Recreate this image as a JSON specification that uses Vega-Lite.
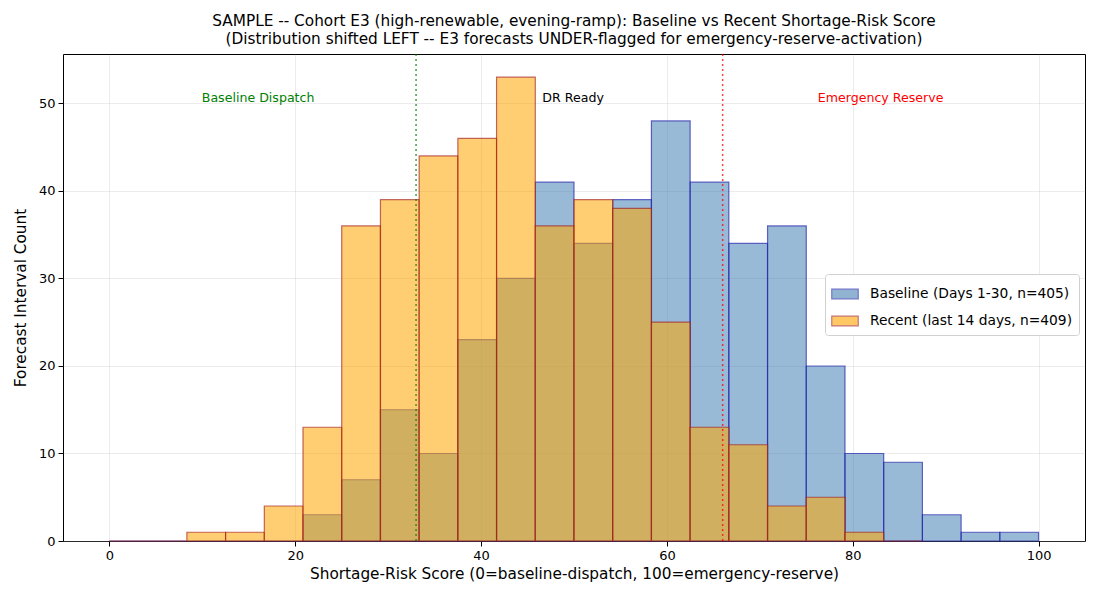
{
  "$schema": "https://vega.github.io/schema/vega-lite/v6.json",
  "autosize": "none",
  "width": 1022,
  "height": 487,
  "padding": {"left": 63, "top": 54, "right": 15, "bottom": 59},
  "background": "white",
  "config": {
    "font": "DejaVu Sans",
    "view": {"stroke": "black", "strokeWidth": 1},
    "axis": {
      "domain": false,
      "grid": true,
      "gridColor": "#b0b0b0",
      "gridOpacity": 0.3,
      "gridWidth": 0.8,
      "tickColor": "black",
      "tickSize": 5,
      "labelColor": "black",
      "labelFontSize": 13,
      "titleColor": "black",
      "titleFontSize": 15.3,
      "titleFontWeight": "normal"
    }
  },
  "title": {
    "text": ["SAMPLE -- Cohort E3 (high-renewable, evening-ramp): Baseline vs Recent Shortage-Risk Score", "(Distribution shifted LEFT -- E3 forecasts UNDER-flagged for emergency-reserve-activation)"],
    "fontSize": 15.3,
    "fontWeight": "normal",
    "color": "black",
    "anchor": "middle",
    "offset": 6,
    "lineHeight": 18
  },
  "datasets": {
    "bins": [
      {"series": "Baseline (Days 1-30, n=405)", "lo": 0, "hi": 4.1667, "count": 0},
      {"series": "Baseline (Days 1-30, n=405)", "lo": 4.1667, "hi": 8.3333, "count": 0},
      {"series": "Baseline (Days 1-30, n=405)", "lo": 8.3333, "hi": 12.5, "count": 0},
      {"series": "Baseline (Days 1-30, n=405)", "lo": 12.5, "hi": 16.6667, "count": 0},
      {"series": "Baseline (Days 1-30, n=405)", "lo": 16.6667, "hi": 20.8333, "count": 0},
      {"series": "Baseline (Days 1-30, n=405)", "lo": 20.8333, "hi": 25, "count": 3},
      {"series": "Baseline (Days 1-30, n=405)", "lo": 25, "hi": 29.1667, "count": 7},
      {"series": "Baseline (Days 1-30, n=405)", "lo": 29.1667, "hi": 33.3333, "count": 15},
      {"series": "Baseline (Days 1-30, n=405)", "lo": 33.3333, "hi": 37.5, "count": 10},
      {"series": "Baseline (Days 1-30, n=405)", "lo": 37.5, "hi": 41.6667, "count": 23},
      {"series": "Baseline (Days 1-30, n=405)", "lo": 41.6667, "hi": 45.8333, "count": 30},
      {"series": "Baseline (Days 1-30, n=405)", "lo": 45.8333, "hi": 50, "count": 41},
      {"series": "Baseline (Days 1-30, n=405)", "lo": 50, "hi": 54.1667, "count": 34},
      {"series": "Baseline (Days 1-30, n=405)", "lo": 54.1667, "hi": 58.3333, "count": 39},
      {"series": "Baseline (Days 1-30, n=405)", "lo": 58.3333, "hi": 62.5, "count": 48},
      {"series": "Baseline (Days 1-30, n=405)", "lo": 62.5, "hi": 66.6667, "count": 41},
      {"series": "Baseline (Days 1-30, n=405)", "lo": 66.6667, "hi": 70.8333, "count": 34},
      {"series": "Baseline (Days 1-30, n=405)", "lo": 70.8333, "hi": 75, "count": 36},
      {"series": "Baseline (Days 1-30, n=405)", "lo": 75, "hi": 79.1667, "count": 20},
      {"series": "Baseline (Days 1-30, n=405)", "lo": 79.1667, "hi": 83.3333, "count": 10},
      {"series": "Baseline (Days 1-30, n=405)", "lo": 83.3333, "hi": 87.5, "count": 9},
      {"series": "Baseline (Days 1-30, n=405)", "lo": 87.5, "hi": 91.6667, "count": 3},
      {"series": "Baseline (Days 1-30, n=405)", "lo": 91.6667, "hi": 95.8333, "count": 1},
      {"series": "Baseline (Days 1-30, n=405)", "lo": 95.8333, "hi": 100, "count": 1},
      {"series": "Recent (last 14 days, n=409)", "lo": 0, "hi": 4.1667, "count": 0},
      {"series": "Recent (last 14 days, n=409)", "lo": 4.1667, "hi": 8.3333, "count": 0},
      {"series": "Recent (last 14 days, n=409)", "lo": 8.3333, "hi": 12.5, "count": 1},
      {"series": "Recent (last 14 days, n=409)", "lo": 12.5, "hi": 16.6667, "count": 1},
      {"series": "Recent (last 14 days, n=409)", "lo": 16.6667, "hi": 20.8333, "count": 4},
      {"series": "Recent (last 14 days, n=409)", "lo": 20.8333, "hi": 25, "count": 13},
      {"series": "Recent (last 14 days, n=409)", "lo": 25, "hi": 29.1667, "count": 36},
      {"series": "Recent (last 14 days, n=409)", "lo": 29.1667, "hi": 33.3333, "count": 39},
      {"series": "Recent (last 14 days, n=409)", "lo": 33.3333, "hi": 37.5, "count": 44},
      {"series": "Recent (last 14 days, n=409)", "lo": 37.5, "hi": 41.6667, "count": 46},
      {"series": "Recent (last 14 days, n=409)", "lo": 41.6667, "hi": 45.8333, "count": 53},
      {"series": "Recent (last 14 days, n=409)", "lo": 45.8333, "hi": 50, "count": 36},
      {"series": "Recent (last 14 days, n=409)", "lo": 50, "hi": 54.1667, "count": 39},
      {"series": "Recent (last 14 days, n=409)", "lo": 54.1667, "hi": 58.3333, "count": 38},
      {"series": "Recent (last 14 days, n=409)", "lo": 58.3333, "hi": 62.5, "count": 25},
      {"series": "Recent (last 14 days, n=409)", "lo": 62.5, "hi": 66.6667, "count": 13},
      {"series": "Recent (last 14 days, n=409)", "lo": 66.6667, "hi": 70.8333, "count": 11},
      {"series": "Recent (last 14 days, n=409)", "lo": 70.8333, "hi": 75, "count": 4},
      {"series": "Recent (last 14 days, n=409)", "lo": 75, "hi": 79.1667, "count": 5},
      {"series": "Recent (last 14 days, n=409)", "lo": 79.1667, "hi": 83.3333, "count": 1},
      {"series": "Recent (last 14 days, n=409)", "lo": 83.3333, "hi": 87.5, "count": 0}
    ],
    "zones": [
      {"x": 33, "color": "green"},
      {"x": 66, "color": "red"}
    ],
    "labels": [
      {"x": 16, "label": "Baseline Dispatch", "color": "green"},
      {"x": 49.9, "label": "DR Ready", "color": "black"},
      {"x": 83, "label": "Emergency Reserve", "color": "red"}
    ]
  },
  "layer": [
    {
      "data": {"name": "bins"},
      "mark": {"type": "bar", "orient": "vertical", "fillOpacity": 0.55, "strokeOpacity": 0.65, "strokeWidth": 1.2},
      "encoding": {
        "x": {
          "field": "lo", "type": "quantitative",
          "scale": {"domain": [-5, 105], "nice": false, "zero": false, "padding": 0},
          "axis": {"values": [0, 20, 40, 60, 80, 100], "title": "Shortage-Risk Score (0=baseline-dispatch, 100=emergency-reserve)", "titlePadding": 4, "labelPadding": 3}
        },
        "x2": {"field": "hi"},
        "y": {
          "field": "count", "type": "quantitative", "stack": null,
          "scale": {"domain": [0, 55.65], "nice": false},
          "axis": {"values": [0, 10, 20, 30, 40, 50], "title": "Forecast Interval Count", "titlePadding": 10, "labelPadding": 3}
        },
        "y2": {"datum": 0},
        "color": {
          "field": "series", "type": "nominal",
          "scale": {"domain": ["Baseline (Days 1-30, n=405)", "Recent (last 14 days, n=409)"], "range": ["#4682b4", "#ffa500"]},
          "legend": {
            "title": null,
            "orient": "none",
            "legendX": 762,
            "legendY": 220,
            "labelFontSize": 13.8,
            "labelLimit": 400,
            "labelColor": "black",
            "symbolType": "M-1,-0.37H1V0.37H-1Z",
            "symbolSize": 700,
            "symbolOpacity": 0.6,
            "symbolStrokeWidth": 1.2,
            "labelOffset": 11,
            "rowPadding": 5,
            "padding": 6,
            "strokeColor": "#d0d0d0",
            "fillColor": "white",
            "cornerRadius": 3,
            "offset": 0
          }
        },
        "stroke": {
          "field": "series", "type": "nominal",
          "scale": {"domain": ["Baseline (Days 1-30, n=405)", "Recent (last 14 days, n=409)"], "range": ["#1a1aa8", "#a11a1a"]},
          "legend": null
        }
      }
    },
    {
      "data": {"name": "zones"},
      "mark": {"type": "rule", "strokeDash": [2, 3], "strokeWidth": 1.5, "opacity": 0.75},
      "encoding": {
        "x": {"field": "x", "type": "quantitative"},
        "color": {"field": "color", "type": "nominal", "scale": null, "legend": null}
      }
    },
    {
      "data": {"name": "labels"},
      "mark": {"type": "text", "fontSize": 12.6, "align": "center", "baseline": "middle"},
      "encoding": {
        "x": {"field": "x", "type": "quantitative"},
        "y": {"datum": 50.6, "type": "quantitative"},
        "text": {"field": "label"},
        "color": {"field": "color", "type": "nominal", "scale": null, "legend": null}
      }
    }
  ]
}
